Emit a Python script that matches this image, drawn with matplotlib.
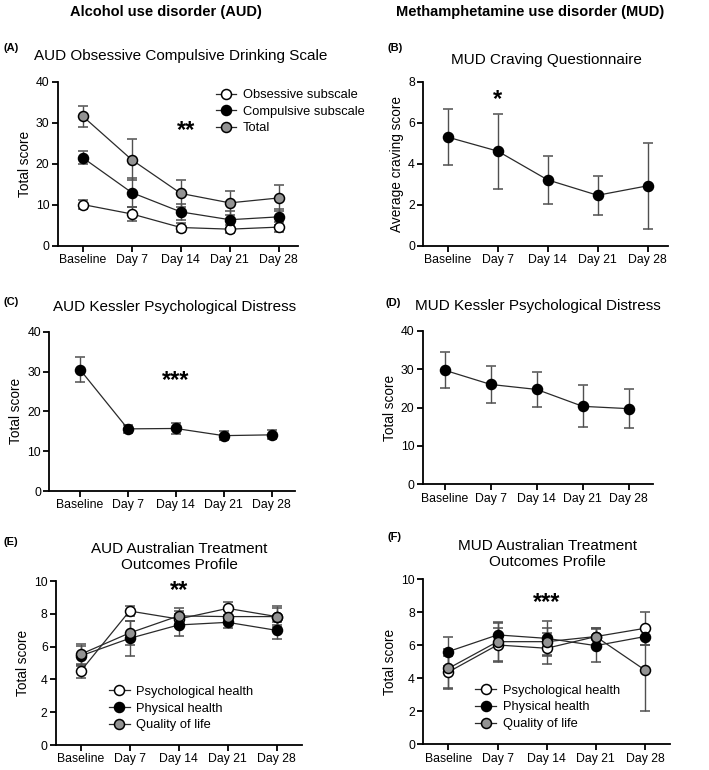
import matplotlib
matplotlib.use("Agg")
import matplotlib.pyplot as plt
from matplotlib.lines import Line2D
import numpy as np

plt.rcParams['font.family'] = ['Liberation Sans', 'DejaVu Sans']

W, H = 709, 770

days = ["Baseline", "Day 7", "Day 14", "Day 21", "Day 28"]

# (A) AUD Obsessive Compulsive Drinking Scale
ocds_obs = [10.1, 7.8, 4.5, 4.1, 4.6]
ocds_obs_err = [1.0, 1.8, 1.2, 1.0, 1.2]
ocds_comp = [21.5, 13.0, 8.3, 6.4, 7.1]
ocds_comp_err = [1.6, 3.5, 2.0, 2.0, 2.0]
ocds_total = [31.6, 21.0, 12.8, 10.5, 11.7]
ocds_total_err = [2.6, 5.0, 3.2, 3.0, 3.1]

# (B) MUD Craving Questionnaire
crav = [5.3, 4.62, 3.22, 2.47, 2.93]
crav_err = [1.35, 1.83, 1.18, 0.96, 2.08]

# (C) AUD Kessler
k10_aud = [30.5, 15.6, 15.7, 13.9, 14.1]
k10_aud_err = [3.2, 1.0, 1.3, 1.1, 1.1]

# (D) MUD Kessler
k10_mud = [29.7, 26.0, 24.7, 20.3, 19.7]
k10_mud_err = [4.7, 4.85, 4.5, 5.5, 5.0]

# (E) AUD ATOP
atop_aud_psych = [4.49, 8.17, 7.68, 8.33, 7.83]
atop_aud_psych_err = [0.42, 0.28, 0.5, 0.42, 0.65]
atop_aud_phys = [5.43, 6.5, 7.32, 7.48, 6.99]
atop_aud_phys_err = [0.6, 1.05, 0.65, 0.37, 0.5]
atop_aud_qol = [5.53, 6.83, 7.87, 7.83, 7.83]
atop_aud_qol_err = [0.65, 0.75, 0.5, 0.4, 0.5]

# (F) MUD ATOP
atop_mud_psych = [4.38, 6.02, 5.82, 6.53, 7.03]
atop_mud_psych_err = [1.0, 1.05, 0.95, 0.5, 1.0]
atop_mud_phys = [5.62, 6.63, 6.42, 5.98, 6.53]
atop_mud_phys_err = [0.86, 0.7, 1.07, 0.98, 0.53]
atop_mud_qol = [4.6, 6.22, 6.22, 6.53, 4.5]
atop_mud_qol_err = [1.2, 1.2, 0.8, 0.5, 2.5]

GRAY = "#939393"
x = np.arange(len(days))

fig = plt.figure(figsize=(W / 100, H / 100), dpi=100)


def make_ax(left, right, top, bottom, xl, ymax, ystep, ylabel):
    ax = fig.add_axes([left / W, 1 - bottom / H, (right - left) / W, (bottom - top) / H])
    ax.set_xlim(*xl)
    ax.set_ylim(0, ymax)
    ax.set_yticks(np.arange(0, ymax + 0.001, ystep))
    ax.set_xticks(x)
    ax.set_xticklabels(days)
    for s in ["top", "right"]:
        ax.spines[s].set_visible(False)
    for s in ["left", "bottom"]:
        ax.spines[s].set_linewidth(1.3)
    ax.tick_params(labelsize=8.8, width=1.3, length=4, pad=2)
    ax.set_ylabel(ylabel, fontsize=9.8, labelpad=3)
    return ax


def series(ax, y, err, face):
    ax.errorbar(x, y, yerr=err, color="#2a2a2a", ecolor="#505050", elinewidth=1,
                capsize=3.5, capthick=1, lw=0.9, marker="o", ms=7.2,
                mfc=face, mec="black", mew=1.1, zorder=3)


def legend(ax, labels, faces, anchor):
    handles = [Line2D([], [], color="#2a2a2a", lw=0.9, marker="o", ms=7.2,
                      mfc=f, mec="black", mew=1.1) for f in faces]
    ax.legend(handles, labels, loc="upper left", bbox_to_anchor=anchor, frameon=False,
              fontsize=9.3, handlelength=1.6, handletextpad=0.5, labelspacing=0.36,
              borderpad=0)


def title(px, py, txt):
    fig.text(px / W, 1 - py / H, txt, ha="center", va="center", fontsize=11,
             linespacing=1.1)


def tag(px, py, txt):
    fig.text(px / W, 1 - py / H, txt, ha="left", va="center", fontsize=8, fontweight="bold")


def stars(ax, xv, yv, s):
    ax.text(xv, yv, s, ha="center", va="center", fontsize=17, fontweight="bold")


fig.text(166 / W, 1 - 12 / H, "Alcohol use disorder (AUD)", ha="center", va="center",
         fontsize=10.5, fontweight="bold")
fig.text(530 / W, 1 - 12 / H, "Methamphetamine use disorder (MUD)", ha="center", va="center",
         fontsize=10.5, fontweight="bold")

# A
ax = make_ax(57.7, 298, 81.7, 246, (-0.51, 4.39), 40, 10, "Total score")
series(ax, ocds_obs, ocds_obs_err, "white")
series(ax, ocds_comp, ocds_comp_err, "black")
series(ax, ocds_total, ocds_total_err, GRAY)
stars(ax, 2.1, 28.2, "**")
legend(ax, ["Obsessive subscale", "Compulsive subscale", "Total"],
       ["white", "black", GRAY], (0.63, 0.995))
title(181, 56, "AUD Obsessive Compulsive Drinking Scale")
tag(3, 48, "(A)")

# B
ax = make_ax(423.3, 668, 81.7, 246, (-0.49, 4.41), 8, 2, "Average craving score")
series(ax, crav, crav_err, "black")
stars(ax, 1, 7.15, "*")
title(546, 60, "MUD Craving Questionnaire")
tag(387, 48, "(B)")

# C
ax = make_ax(49.3, 295, 331.7, 491, (-0.64, 4.49), 40, 10, "Total score")
series(ax, k10_aud, k10_aud_err, "black")
stars(ax, 2, 27.8, "***")
title(175, 307, "AUD Kessler Psychological Distress")
tag(3, 302, "(C)")

# D
ax = make_ax(422.7, 652.7, 330.7, 484.3, (-0.48, 4.52), 40, 10, "Total score")
series(ax, k10_mud, k10_mud_err, "black")
title(538, 306, "MUD Kessler Psychological Distress")
tag(385, 303, "(D)")

# E
ax = make_ax(56, 301.7, 581, 745, (-0.5, 4.51), 10, 2, "Total score")
series(ax, atop_aud_psych, atop_aud_psych_err, "white")
series(ax, atop_aud_phys, atop_aud_phys_err, "black")
series(ax, atop_aud_qol, atop_aud_qol_err, GRAY)
stars(ax, 2, 9.4, "**")
legend(ax, ["Psychological health", "Physical health", "Quality of life"],
       ["white", "black", GRAY], (0.19, 0.4))
title(179, 557, "AUD Australian Treatment\nOutcomes Profile")
tag(3, 542, "(E)")

# F
ax = make_ax(423.3, 670, 579.3, 744.3, (-0.51, 4.51), 10, 2, "Total score")
series(ax, atop_mud_psych, atop_mud_psych_err, "white")
series(ax, atop_mud_phys, atop_mud_phys_err, "black")
series(ax, atop_mud_qol, atop_mud_qol_err, GRAY)
stars(ax, 2, 8.6, "***")
legend(ax, ["Psychological health", "Physical health", "Quality of life"],
       ["white", "black", GRAY], (0.185, 0.4))
title(547, 554, "MUD Australian Treatment\nOutcomes Profile")
tag(387, 537, "(F)")

fig.savefig("out.png", dpi=100)
